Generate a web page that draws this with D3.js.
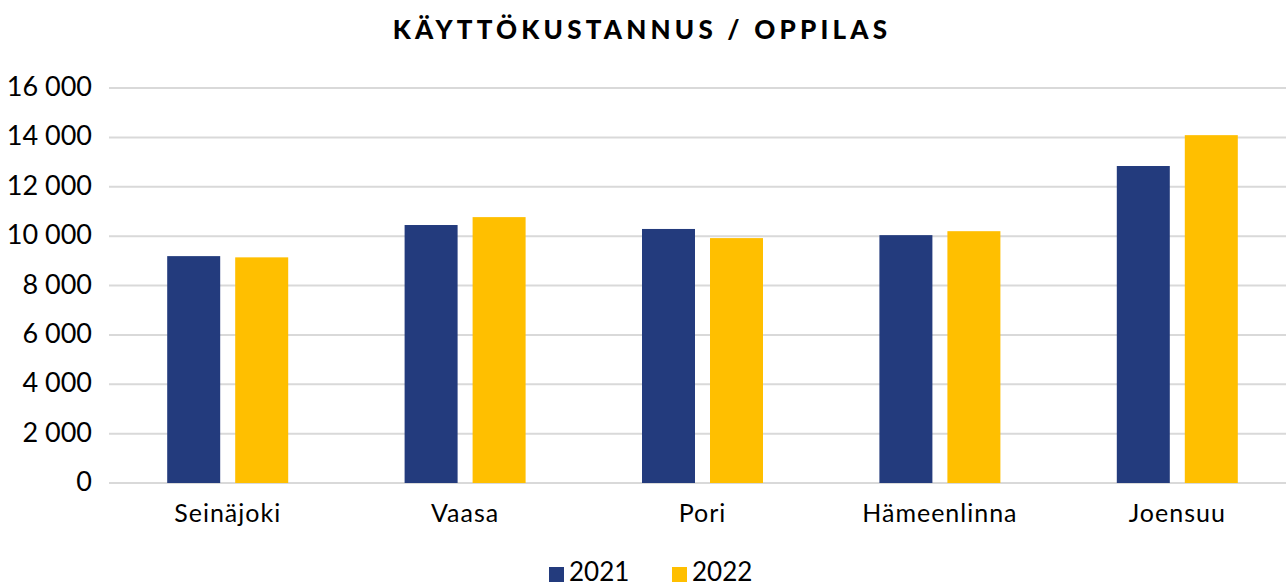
<!DOCTYPE html>
<html>
<head>
<meta charset="utf-8">
<script src="https://cdn.jsdelivr.net/npm/d3@7"></script>
<style>
  html, body { margin: 0; padding: 0; background: #fff; }
  svg { display: block; font-family: Lato, "Open Sans", sans-serif; }
</style>
</head>
<body>
<svg id="chart" width="1286" height="583"></svg>
<script>
// Käyttökustannus per oppilas, euroa
const cities = ["Seinäjoki", "Vaasa", "Pori", "Hämeenlinna", "Joensuu"];
const years = ["2021", "2022"];
const values2021 = [9190, 10450, 10290, 10040, 12840];
const values2022 = [9140, 10770, 9920, 10200, 14090];
const yTicks = [0, 2000, 4000, 6000, 8000, 10000, 12000, 14000, 16000];
const yearColors = ["#233B7D", "#FFBF00"];

const rows = cities.map((c, i) => ({ city: c, vals: [values2021[i], values2022[i]] }));

const svg = d3.select("#chart");
const W = 1286;
const plotLeft = 109, plotRight = 1296, plotTop = 88, plotBottom = 483;

const x = d3.scaleBand().domain(cities).range([plotLeft, plotRight]);
const y = d3.scaleLinear().domain([0, 16000]).range([plotBottom, plotTop]);
// two bars per city, 53 px wide with a 15 px gap, centred in the band
const groupW = 121;
const innerStart = (x.bandwidth() - groupW) / 2;
const xInner = d3.scaleBand().domain(years)
  .range([innerStart, innerStart + groupW])
  .paddingInner(15 / 68).paddingOuter(0);

const fmt = v => d3.format(",")(v).replace(/,/g, " ");

// gridlines
svg.append("g")
  .selectAll("line")
  .data(yTicks)
  .join("line")
  .attr("x1", plotLeft).attr("x2", W)
  .attr("y1", d => y(d)).attr("y2", d => y(d))
  .attr("stroke", "#d9d9d9").attr("stroke-width", 2);

// y axis labels
const yAxis = d3.axisLeft(y).tickValues(yTicks).tickFormat(fmt).tickSize(0).tickPadding(0);
const ya = svg.append("g").attr("transform", "translate(92,0)").call(yAxis);
ya.select(".domain").remove();
ya.selectAll("text")
  .attr("font-size", 27).attr("fill", "#000")
  .attr("font-family", "Lato, sans-serif")
  .attr("dy", "0.28em");

// bars
const groups = svg.append("g").selectAll("g")
  .data(rows).join("g")
  .attr("transform", d => `translate(${x(d.city)},0)`);
groups.selectAll("rect")
  .data(d => d.vals.map((v, i) => ({ year: years[i], v, i })))
  .join("rect")
  .attr("x", d => xInner(d.year))
  .attr("width", xInner.bandwidth())
  .attr("y", d => y(d.v))
  .attr("height", d => y(0) - y(d.v))
  .attr("fill", d => yearColors[d.i]);

// x axis labels
const xAxis = d3.axisBottom(x).tickSize(0).tickPadding(0);
const xa = svg.append("g").attr("transform", "translate(0,522)").call(xAxis);
xa.select(".domain").remove();
xa.selectAll("text")
  .attr("font-size", 25).attr("fill", "#000")
  .attr("font-family", "Lato, sans-serif")
  .attr("letter-spacing", 1)
  .attr("dy", 0);

// title
svg.append("text")
  .attr("x", 642).attr("y", 39)
  .attr("text-anchor", "middle")
  .attr("font-size", 26).attr("font-weight", 900)
  .attr("letter-spacing", 4.2)
  .attr("fill", "#000")
  .text("KÄYTTÖKUSTANNUS / OPPILAS");

// legend
const legend = svg.append("g");
const legendX = [549, 672];
years.forEach((yr, i) => {
  legend.append("rect").attr("x", legendX[i]).attr("y", 567).attr("width", 15).attr("height", 15).attr("fill", yearColors[i]);
  legend.append("text").attr("x", legendX[i] + 20).attr("y", 581)
    .attr("font-size", 26).attr("fill", "#000").text(yr);
});
</script>
</body>
</html>
